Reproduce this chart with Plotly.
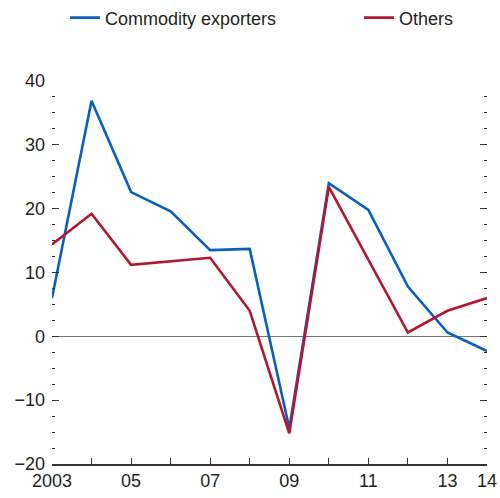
import plotly.graph_objects as go

years = list(range(2003, 2015))
commodity_exporters = [6.0, 36.9, 22.6, 19.6, 13.5, 13.7, -14.4, 24.0, 19.8, 7.8, 0.6, -2.3]
others = [14.4, 19.2, 11.2, 11.7, 12.3, 4.0, -15.2, 23.4, 11.9, 0.6, 4.0, 6.0]

tick_years = years
tick_text = ["2003", "", "05", "", "07", "", "09", "", "11", "", "13", "14"]
y_ticks = [-20, -10, 0, 10, 20, 30, 40]

BLUE = "#0a5fbe"
RED = "#b3172f"
TXT = "#231f20"
FONT = "Liberation Sans"

fig = go.Figure()
fig.add_trace(go.Scatter(x=years, y=commodity_exporters, mode="lines",
                         name="Commodity exporters", legend="legend",
                         line=dict(color=BLUE, width=2.6)))
fig.add_trace(go.Scatter(x=years, y=others, mode="lines", name="Others",
                         legend="legend2",
                         line=dict(color=RED, width=2.6)))

leg_common = dict(orientation="h", xref="container", yref="container",
                  yanchor="middle", xanchor="left",
                  font=dict(family=FONT, size=18, color=TXT),
                  bgcolor="rgba(0,0,0,0)")

fig.update_layout(
    width=500, height=498,
    margin=dict(l=52, r=13, t=81, b=34, pad=0),
    plot_bgcolor="white", paper_bgcolor="white",
    font=dict(family=FONT, size=18, color=TXT),
    showlegend=True,
    legend=dict(x=0.130, y=0.964, **leg_common),
    legend2=dict(x=0.718, y=0.964, **leg_common),
)

fig.update_xaxes(
    range=[2003, 2014], tickmode="array", tickvals=tick_years, ticktext=tick_text,
    ticks="inside", ticklen=6, tickwidth=1.2, tickcolor="#333333",
    showline=True, linecolor="#333333", linewidth=1.5,
    showgrid=False, zeroline=False, mirror=False, automargin=False,
    tickfont=dict(family=FONT, size=18, color=TXT),
)
fig.update_yaxes(
    range=[-20, 40], tickmode="array", tickvals=y_ticks,
    ticks="inside", ticklen=7, tickwidth=1.2, tickcolor="#333333",
    showline=False, mirror="ticks", automargin=False,
    minor=dict(dtick=2.5, tick0=0, ticks="inside", ticklen=3, tickwidth=1.2,
               tickcolor="#333333", showgrid=False),
    showgrid=False, zeroline=True, zerolinecolor="#777777", zerolinewidth=1.2,
    tickfont=dict(family=FONT, size=18, color=TXT),
    ticklabelstandoff=6,
)

fig.write_html("out.html",
               config={"displayModeBar": False},
               post_script="document.body.style.margin='0';document.body.style.overflow='hidden';")
